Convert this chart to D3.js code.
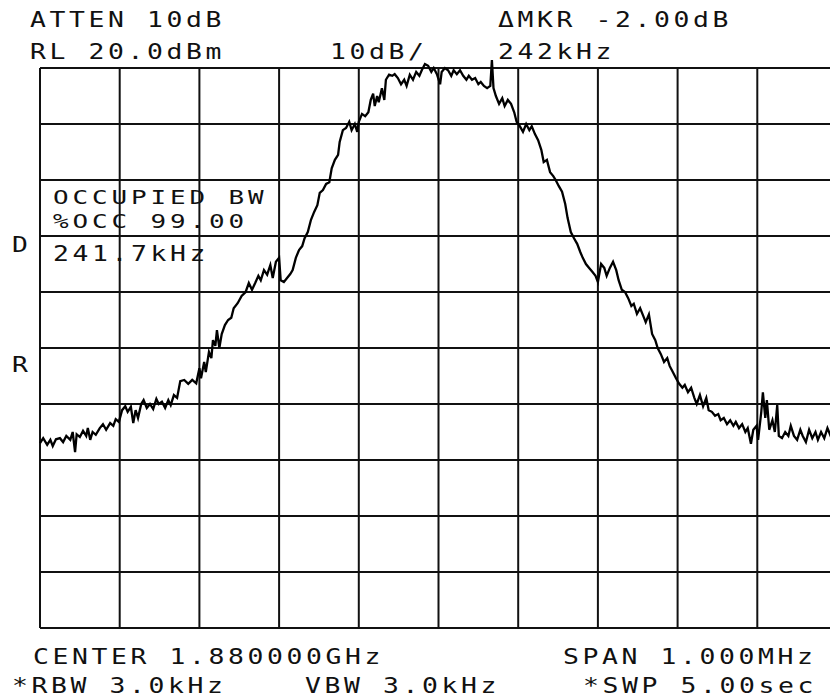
<!DOCTYPE html>
<html>
<head>
<meta charset="utf-8">
<script src="https://cdn.jsdelivr.net/npm/d3@7"></script>
<style>
  html, body { margin: 0; padding: 0; background: #fff; }
  svg { display: block; }
  text { font-family: "DejaVu Sans Mono", monospace; fill: #111; }
</style>
</head>
<body>
<div id="chart"></div>
<script>
const width = 830;
const height = 700;

// frequency offset from center (kHz) and trace level (dBm)
const freqOffset = [
  -500,-496,-491,-487,-484,-480,-475,-471,-467,-462,-459,-456,-454,-450,-446,-442,-440,-437,-434,-430,
  -425,-421,-417,-412,-408,-405,-401,-397,-393,-390,-386,-383,-380,-377,-373,-370,-366,-362,-358,-354,
  -351,-347,-343,-339,-336,-332,-328,-324,-319,-314,-309,-304,-300,-298,-294,-292,-288,-285,-283,-280,
  -278,-275,-272,-268,-264,-260,-257,-252,-247,-242,-238,-234,-230,-226,-223,-219,-215,-211,-208,-204,
  -200,-198,-194,-190,-186,-183,-179,-175,-171,-168,-164,-160,-156,-152,-149,-145,-141,-137,-134,-130,
  -126,-124,-120,-116,-112,-109,-105,-102,-100,-96,-92,-88,-85,-82,-80,-77,-75,-71,-68,-66,
  -62,-58,-55,-51,-47,-43,-40,-36,-32,-28,-24,-21,-17,-13,-9,-6,-2,2,4,8,
  12,16,19,23,27,31,35,38,42,46,50,53,57,61,65,67,69,72,76,80,
  83,87,91,95,98,102,106,110,114,117,121,125,129,132,136,140,144,147,151,155,
  159,162,166,170,174,178,181,185,189,193,197,200,204,208,211,215,219,223,226,230,
  234,238,242,245,249,253,257,260,264,268,272,275,279,283,287,290,294,298,302,306,
  309,313,317,321,324,328,332,336,339,343,347,351,354,358,362,366,370,373,377,381,
  385,388,392,395,399,401,405,407,410,412,415,419,422,425,427,431,435,439,442,446,
  450,454,457,461,465,469,473,476,480,484,488,492,497,500
];
const levelDbm = [
  -47.0,-46.1,-47.3,-46.4,-47.5,-46.3,-46.1,-46.8,-45.7,-46.4,-45.0,-48.6,-45.4,-45.9,-44.8,-45.7,-44.3,-46.4,-45.0,-45.5,
  -44.3,-43.6,-44.6,-43.4,-43.9,-42.7,-43.2,-41.1,-40.4,-41.4,-40.5,-43.4,-41.1,-42.5,-40.0,-39.3,-40.7,-40.0,-40.9,-39.1,
  -40.0,-39.6,-40.7,-39.3,-40.2,-38.4,-38.9,-35.9,-35.7,-36.4,-35.7,-36.3,-33.6,-35.4,-32.5,-34.3,-30.7,-31.8,-28.6,-29.6,
  -26.8,-30.0,-27.5,-25.9,-25.0,-24.6,-22.9,-22.0,-20.7,-20.0,-18.4,-19.6,-18.4,-17.1,-17.9,-16.1,-16.9,-15.2,-17.5,-14.6,
  -13.9,-17.9,-18.2,-17.5,-16.8,-16.1,-13.9,-12.5,-11.8,-10.4,-9.3,-7.1,-5.7,-4.5,-2.3,-1.8,-0.7,-0.4,2.1,3.6,
  4.5,6.8,8.9,9.3,10.4,8.9,10.0,8.6,10.4,11.8,11.4,12.1,14.3,15.4,13.2,15.0,13.9,16.4,14.3,17.9,
  18.8,18.6,18.9,18.2,17.1,17.9,16.8,18.8,17.9,19.3,18.6,19.6,20.7,20.4,19.3,20.0,18.9,17.1,19.3,20.0,
  19.6,18.6,19.6,18.9,19.6,18.6,17.9,18.6,17.9,18.2,17.1,17.5,16.8,16.4,16.8,21.4,16.4,15.0,13.6,14.6,
  13.2,14.3,13.6,12.1,10.4,9.6,8.6,10.0,8.9,9.6,8.2,7.1,5.4,3.2,3.6,1.4,0.7,0.0,-1.1,-2.1,
  -4.3,-6.8,-9.3,-10.4,-11.4,-12.9,-13.9,-15.0,-15.7,-16.4,-17.1,-18.2,-15.0,-15.7,-17.1,-15.7,-14.6,-16.1,-17.9,-19.6,
  -20.0,-21.1,-22.5,-22.1,-23.9,-22.9,-24.3,-25.4,-24.0,-27.5,-28.6,-30.0,-31.1,-32.5,-31.8,-33.2,-34.3,-35.4,-36.4,-37.1,
  -36.6,-37.9,-37.1,-38.9,-40.0,-38.4,-40.4,-38.9,-41.1,-41.4,-42.1,-41.8,-42.9,-42.5,-43.6,-42.9,-43.9,-43.2,-44.3,-43.6,
  -45.0,-44.3,-47.1,-44.6,-43.9,-46.4,-41.4,-37.9,-42.5,-39.3,-44.6,-42.9,-45.0,-40.2,-45.7,-46.1,-45.0,-45.7,-43.9,-45.7,
  -46.4,-44.6,-45.7,-46.8,-44.6,-46.1,-45.0,-46.4,-45.0,-46.1,-44.3,-45.7,-45.0,-45.7
];

const freqTicks = [-500, -400, -300, -200, -100, 0, 100, 200, 300, 400, 500];
const levelTicks = [-80, -70, -60, -50, -40, -30, -20, -10, 0, 10, 20];

const labels = [
  { text: "ATTEN 10dB", x: 30, y: 27, size: 22 },
  { text: "RL 20.0dBm", x: 30, y: 59, size: 22 },
  { text: "10dB/", x: 330, y: 59, size: 22 },
  { text: "\u0394MKR -2.00dB", x: 498, y: 27, size: 22 },
  { text: "242kHz", x: 498, y: 59, size: 22 },
  { text: "OCCUPIED BW", x: 53, y: 204, size: 20 },
  { text: "%OCC 99.00", x: 53, y: 228, size: 20 },
  { text: "241.7kHz", x: 53, y: 261, size: 22 },
  { text: "D", x: 12, y: 252, size: 22 },
  { text: "R", x: 12, y: 372, size: 22 },
  { text: "CENTER 1.880000GHz", x: 33, y: 664, size: 22 },
  { text: "SPAN 1.000MHz", x: 563, y: 664, size: 22 },
  { text: "*RBW 3.0kHz", x: 12, y: 693, size: 22 },
  { text: "VBW 3.0kHz", x: 305, y: 693, size: 22 },
  { text: "*SWP 5.00sec", x: 583, y: 693, size: 22 }
];

const x = d3.scaleLinear().domain([-500, 500]).range([40, 837]);
const y = d3.scaleLinear().domain([-80, 20]).range([628, 68]);

const svg = d3.select("#chart").append("svg")
    .attr("width", width)
    .attr("height", height);

const grid = svg.append("g")
    .attr("stroke", "#111")
    .attr("stroke-width", 2);

grid.selectAll(".vline")
    .data(freqTicks)
    .join("line")
    .attr("class", "vline")
    .attr("x1", d => x(d)).attr("x2", d => x(d))
    .attr("y1", y(20)).attr("y2", y(-80));

grid.selectAll(".hline")
    .data(levelTicks)
    .join("line")
    .attr("class", "hline")
    .attr("x1", x(-500)).attr("x2", x(500))
    .attr("y1", d => y(d)).attr("y2", d => y(d));

const trace = freqOffset.map((f, i) => [f, levelDbm[i]]);

svg.append("path")
    .datum(trace)
    .attr("fill", "none")
    .attr("stroke", "#000")
    .attr("stroke-width", 2.3)
    .attr("stroke-linejoin", "miter")
    .attr("d", d3.line().x(d => x(d[0])).y(d => y(d[1])));

// wide plotter-style lettering: mono font stretched horizontally
// (advance ~19.5px per character, like the analyzer's screen font)
svg.selectAll(".label")
    .data(labels)
    .join("text")
    .attr("class", "label")
    .attr("font-size", d => d.size)
    .attr("transform", d => {
        const sx = 19.5 / (d.size * 0.602 + 3);
        return `translate(${d.x},${d.y}) scale(${sx},1)`;
    })
    .attr("letter-spacing", 3)
    .text(d => d.text);
</script>
</body>
</html>
